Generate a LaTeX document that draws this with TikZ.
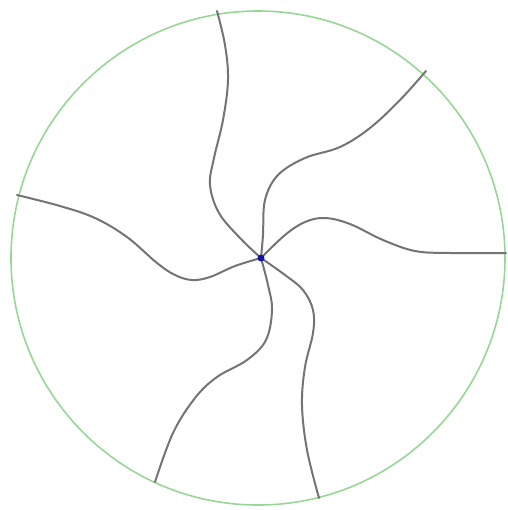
\documentclass[tikz,border=0pt]{standalone}
\usetikzlibrary{backgrounds}
\begin{document}
\begin{tikzpicture}[x=0.5pt,y=-0.5pt,
  rim/.style={draw={rgb,255:red,150;green,215;blue,150},line width=0.8pt},
  arm/.style={draw={rgb,255:red,115;green,115;blue,120},line width=1pt,line cap=round},
  hub/.style={circle,fill={rgb,255:red,20;green,20;blue,160},inner sep=0pt,minimum size=3.5pt}]
\useasboundingbox (0,0) rectangle (508,510);
\coordinate (O) at (258,258);
\coordinate (e1) at (217,11);
\coordinate (e2) at (426,71);
\coordinate (e3) at (506,253);
\coordinate (e4) at (319,498);
\coordinate (e5) at (155,482);
\coordinate (e6) at (17,195);
\node[hub] (c) at (261,258) {};
\begin{scope}[on background layer]
\draw[rim] (O) circle [radius=247];
\draw[arm] plot[smooth,tension=0.6] coordinates {(c.center) (240,238) (219,213) (210,185) (214,158) (223,120) (228,80) (225,45) (e1)};
\draw[arm] plot[smooth,tension=0.6] coordinates {(c.center) (263,235) (265,200) (278,175) (305,158) (340,147) (370,128) (400,100) (e2)};
\draw[arm] plot[smooth,tension=0.6] coordinates {(c.center) (285,235) (305,222) (325,218) (350,224) (383,240) (415,251) (450,253) (e3)};
\draw[arm] plot[smooth,tension=0.6] coordinates {(c.center) (285,275) (303,290) (313,310) (313,333) (305,367) (302,405) (307,450) (e4)};
\draw[arm] plot[smooth,tension=0.6] coordinates {(c.center) (268,285) (272,310) (266,340) (247,360) (217,377) (195,398) (173,433) (e5)};
\draw[arm] plot[smooth,tension=0.6] coordinates {(c.center) (235,266) (210,277) (192,280) (175,275) (157,263) (127,237) (95,218) (60,206) (e6)};
\end{scope}
\end{tikzpicture}
\end{document}
